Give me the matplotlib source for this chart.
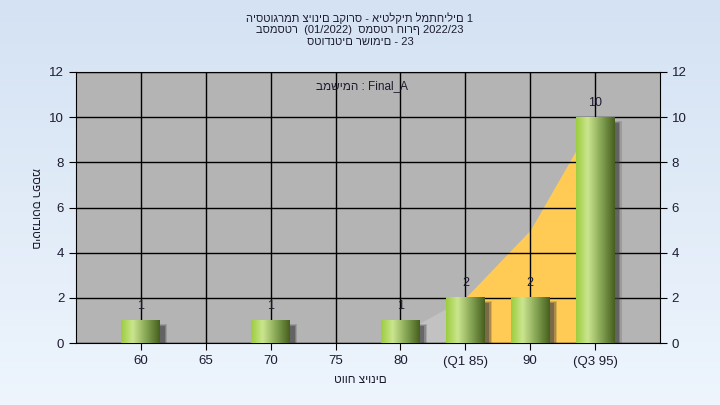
import numpy as np
import matplotlib.pyplot as plt
from matplotlib.colors import LinearSegmentedColormap
from matplotlib.patches import Rectangle

plt.rcParams['font.family'] = ['Liberation Sans', 'DejaVu Sans']

# נתונים
categories = ['60', '65', '70', '75', '80', '(Q1 85)', '90', '(Q3 95)']
counts = [1, 0, 1, 0, 1, 2, 2, 10]
curve_pos = [4, 5, 6, 7]
curve_vals = [0.4, 2, 5, 10]
q1_idx = 5

title_lines = ['היסטוגרמת ציונים בקורס - איטלקית למתחילים 1',
               'בסמסטר  (01/2022)  סמסטר חורף 2022/23',
               'סטודנטים רשומים - 23']

fig = plt.figure(figsize=(7.2, 4.05), dpi=100)

# רקע מדורג
bg = fig.add_axes([0, 0, 1, 1], zorder=-10)
grad = np.linspace(0, 1, 256).reshape(-1, 1)
bg_cmap = LinearSegmentedColormap.from_list('bg', ['#d4e2f3', '#eef5fd'])
bg.imshow(grad, aspect='auto', cmap=bg_cmap, extent=[0, 1, 0, 1], origin='upper')
bg.axis('off')

ax = fig.add_axes([76 / 720, 62 / 405, 584 / 720, 271 / 405])
ax.set_facecolor('#b4b4b4')

x = np.arange(len(categories))

# שטח מתחת לעקומה
cx = np.array(curve_pos)
cy = np.array(curve_vals)
k = curve_pos.index(q1_idx)
ax.fill_between(cx[:k + 1], cy[:k + 1], color='#c2c2c2', zorder=1, lw=0)
ax.fill_between(cx[k:], cy[k:], color='#ffcb55', zorder=1, lw=0)

ax.set_yticks(range(0, 13, 2))
ax.set_xticks(x)
ax.set_xticklabels(categories)
ax.grid(True, color='black', lw=1)
for gl in ax.get_xgridlines() + ax.get_ygridlines():
    gl.set_zorder(1.5)

bar_cmap = LinearSegmentedColormap.from_list(
    'bar', [(0, '#9ccd3e'), (0.3, '#cbe58f'), (0.65, '#86a554'), (1, '#465f1e')])
bar_grad = np.linspace(0, 1, 128).reshape(1, -1)
w = 0.6
for xi, c in zip(x, counts):
    if c == 0:
        continue
    for j, (dx, a) in enumerate([(0.11, 0.2), (0.09, 0.3), (0.07, 0.45)]):
        ax.add_patch(Rectangle((xi - w / 2 + dx, -0.25), w, c + 0.1 - j * 0.05,
                               color='#404040', alpha=a, lw=0, zorder=2))
    ax.imshow(bar_grad, cmap=bar_cmap, aspect='auto',
              extent=[xi - w / 2, xi + w / 2, 0, c], zorder=3)
    ax.annotate(str(c), (xi, c), xytext=(0, 6), textcoords='offset points',
                ha='center', va='bottom', fontsize=9, color='#1c1c30', zorder=4)
ax.set_xlim(-1, 8)
ax.set_ylim(0, 12)

ax.text(0.49, 0.948, 'במשימה : Final_A', transform=ax.transAxes, ha='center',
        va='center', fontsize=8.5, color='#1c1c30')

for s in ax.spines.values():
    s.set_color('black')
ax.tick_params(axis='both', direction='out', length=5, labelsize=9.5,
               colors='black', labelcolor='#1c1c30')
ax.tick_params(axis='y', right=True, labelright=True)
ax.tick_params(axis='x', pad=4)

fig.text(360 / 720, 1 - 380 / 405, 'טווח ציונים', ha='center', va='center',
         fontsize=8.5, color='#1c1c30')
fig.text(35 / 720, 1 - 208 / 405, 'מספר סטודנטים', ha='center', va='center',
         rotation=270, fontsize=8.5, color='#1c1c30')

for i, line in enumerate(title_lines):
    fig.text(0.5, 1 - (18 + 12 * i) / 405, line, ha='center', va='center',
             fontsize=8, color='#1c1c30')

fig.savefig('out.png', dpi=100)
